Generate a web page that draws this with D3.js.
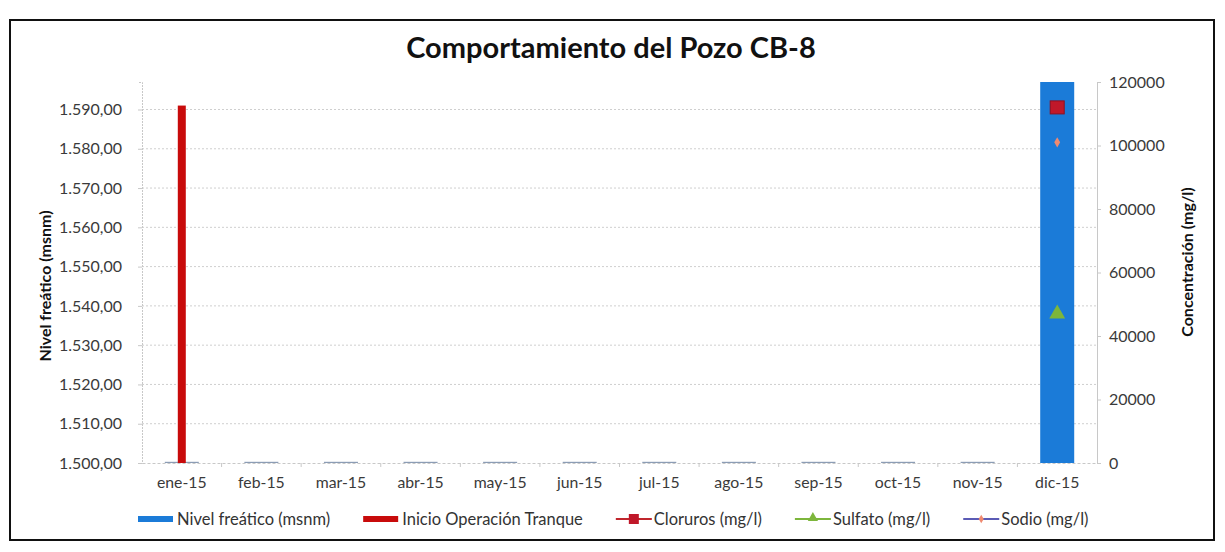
<!DOCTYPE html>
<html><head><meta charset="utf-8">
<script src="https://cdn.jsdelivr.net/npm/d3@7"></script>
<style>
body{margin:0;background:#fff}
text{font-family:Lato,"Open Sans",sans-serif}
</style></head>
<body>
<svg id="c" width="1225" height="552"></svg>
<script>
const categories = ["ene-15","feb-15","mar-15","abr-15","may-15","jun-15","jul-15","ago-15","sep-15","oct-15","nov-15","dic-15"];
const nivelFreatico = [1500,1500,1500,1500,1500,1500,1500,1500,1500,1500,1500,1597];
const inicioOperacion = [1591,null,null,null,null,null,null,null,null,null,null,null];
const cloruros = [null,null,null,null,null,null,null,null,null,null,null,112000];
const sulfato  = [null,null,null,null,null,null,null,null,null,null,null,47000];
const sodio    = [null,null,null,null,null,null,null,null,null,null,null,101000];
const leftTicks = [1500,1510,1520,1530,1540,1550,1560,1570,1580,1590];
const rightTicks = [0,20000,40000,60000,80000,100000,120000];
const legendNames = ["Nivel freático (msnm)","Inicio Operación Tranque","Cloruros (mg/l)","Sulfato (mg/l)","Sodio (mg/l)"];

const svg = d3.select("#c");
const L = 142, R = 1097, T = 82, B = 463;
const BLUE = "#1b7bd8", RED = "#c80b0b";

svg.append("rect").attr("x",0).attr("y",0).attr("width",1225).attr("height",552).attr("fill","#fff");
svg.append("rect").attr("x",10).attr("y",20).attr("width",1204).attr("height",520)
  .attr("fill","#fff").attr("stroke","#111").attr("stroke-width",2);

const x = d3.scaleBand().domain(categories).range([L,R]);
const yL = d3.scaleLinear().domain([1500,1597]).range([B,T]);
const yR = d3.scaleLinear().domain([0,120000]).range([B,T]);

const loc = d3.formatLocale({decimal:",",thousands:".",grouping:[3],currency:["",""]});
const fmtL = loc.format(",.2f");

// gridlines
svg.append("g").selectAll("line").data(leftTicks.slice(1)).join("line")
  .attr("x1",L).attr("x2",R).attr("y1",d=>yL(d)).attr("y2",d=>yL(d))
  .attr("stroke","#cfcfcf").attr("stroke-dasharray","2,2");

// left axis
const gl = svg.append("g").attr("transform",`translate(${L},0)`)
  .call(d3.axisLeft(yL).tickValues(leftTicks).tickFormat(fmtL).tickSize(4).tickPadding(16));
gl.select(".domain").attr("stroke","#c8c8c8").attr("stroke-dasharray","2,1");
gl.selectAll(".tick line").attr("stroke","#c8c8c8");
gl.selectAll("text").attr("font-size",16).attr("fill","#3a3a3a").attr("font-family","Lato");

// right axis
const gr = svg.append("g").attr("transform",`translate(${R},0)`)
  .call(d3.axisRight(yR).tickValues(rightTicks).tickFormat(d3.format("d")).tickSize(4).tickPadding(8));
gr.select(".domain").attr("stroke","#c8c8c8");
gr.selectAll(".tick line").attr("stroke","#c8c8c8");
gr.selectAll("text").attr("font-size",16).attr("fill","#3a3a3a").attr("font-family","Lato");

// bars nivel freatico
svg.append("g").selectAll("rect").data(categories).join("rect")
  .attr("x",d=>x(d)+x.bandwidth()/2-17).attr("width",34)
  .attr("y",(d,i)=>Math.min(yL(nivelFreatico[i]),B-1.2))
  .attr("height",(d,i)=>Math.max(B-yL(nivelFreatico[i]),1.2))
  .attr("fill",(d,i)=>nivelFreatico[i]>1500?BLUE:"#8c9db5");

// x axis baseline
const gx = svg.append("g").attr("transform",`translate(0,${B})`)
  .call(d3.axisBottom(x).tickSize(0).tickPadding(14));
gx.select(".domain").attr("stroke","#c8c8c8").attr("stroke-dasharray","3,2");
gx.selectAll("text").attr("font-size",15.8).attr("fill","#3a3a3a").attr("font-family","Lato");
svg.append("g").selectAll("line").data(categories.slice(1)).join("line")
  .attr("x1",d=>x(d)).attr("x2",d=>x(d)).attr("y1",B).attr("y2",B+4).attr("stroke","#c8c8c8");

// inicio operacion bars
svg.append("g").selectAll("rect").data(categories.filter((d,i)=>inicioOperacion[i]!=null)).join("rect")
  .attr("x",d=>x(d)+x.bandwidth()/2-4).attr("width",8)
  .attr("y",d=>yL(inicioOperacion[categories.indexOf(d)]))
  .attr("height",d=>B-yL(inicioOperacion[categories.indexOf(d)]))
  .attr("fill",RED);

// line series
const cx = d=>x(d)+x.bandwidth()/2;
function series(vals,color){
  const pts = categories.map((c,i)=>({c,v:vals[i]}));
  svg.append("path").datum(pts).attr("fill","none").attr("stroke",color).attr("stroke-width",2)
    .attr("d",d3.line().defined(p=>p.v!=null).x(p=>cx(p.c)).y(p=>yR(p.v)));
  return pts.filter(p=>p.v!=null);
}
const cl = series(cloruros,"#c0262d");
svg.append("g").selectAll("rect").data(cl).join("rect")
  .attr("x",p=>cx(p.c)-7).attr("y",p=>yR(p.v)-6.5).attr("width",14).attr("height",13)
  .attr("fill","#c0182a").attr("stroke","#8e1020");
const su = series(sulfato,"#7db63c");
svg.append("g").selectAll("path").data(su).join("path")
  .attr("transform",p=>`translate(${cx(p.c)},${yR(p.v)})`)
  .attr("d",d3.symbol(d3.symbolTriangle,110)).attr("fill","#7db63c");
const so = series(sodio,"#5b5bb5");
svg.append("g").selectAll("path").data(so).join("path")
  .attr("transform",p=>`translate(${cx(p.c)},${yR(p.v)})`)
  .attr("d",d3.symbol(d3.symbolDiamond,30)).attr("fill","#f08a70");

// titles
svg.append("text").attr("x",611).attr("y",58).attr("text-anchor","middle")
  .attr("font-size",29).attr("font-weight","bold").attr("fill","#111")
  .text("Comportamiento del Pozo CB-8");
svg.append("text").attr("transform","translate(51,286) rotate(-90)").attr("text-anchor","middle")
  .attr("font-size",16).attr("font-weight","bold").attr("fill","#111").text("Nivel freático (msnm)");
svg.append("text").attr("transform","translate(1193,262) rotate(-90)").attr("text-anchor","middle")
  .attr("font-size",16).attr("font-weight","bold").attr("fill","#111").text("Concentración (mg/l)");

// legend
const lg = svg.append("g");
const colors = [BLUE,RED,"#c0262d","#7db63c","#5b5bb5"];
let lx = 138; const ly = 519;
legendNames.forEach((n,i)=>{
  const g = lg.append("g");
  if(i<2){
    g.append("rect").attr("x",lx).attr("y",ly-3).attr("width",35).attr("height",6).attr("fill",colors[i]);
  } else {
    g.append("line").attr("x1",lx).attr("x2",lx+36).attr("y1",ly).attr("y2",ly).attr("stroke",colors[i]).attr("stroke-width",2);
    if(i===2) g.append("rect").attr("x",lx+13).attr("y",ly-5).attr("width",10).attr("height",10).attr("fill","#c0182a");
    if(i===3) g.append("path").attr("transform",`translate(${lx+18},${ly-1})`).attr("d",d3.symbol(d3.symbolTriangle,45)).attr("fill","#7db63c");
    if(i===4) g.append("path").attr("transform",`translate(${lx+18},${ly})`).attr("d",d3.symbol(d3.symbolDiamond,22)).attr("fill","#f08a70");
  }
  const t = g.append("text").attr("x",lx+(i<2?39:38)).attr("y",ly).attr("dy","0.35em")
    .attr("font-size",16.5).attr("fill","#333").text(n);
  lx += (i<2?39:38) + t.node().getComputedTextLength() + 33;
});
</script>
</body></html>
